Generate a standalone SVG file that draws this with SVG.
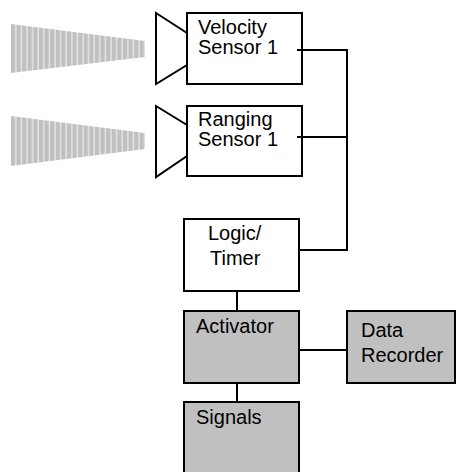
<svg xmlns="http://www.w3.org/2000/svg" width="457" height="472" viewBox="0 0 457 472">
<defs>
<pattern id="stripes" patternUnits="userSpaceOnUse" x="11" y="0" width="5.6" height="10">
<rect x="0" y="0" width="5.6" height="10" fill="#c0c0c0"/>
<rect x="4.1" y="0" width="1.5" height="10" fill="#e4e4e4"/>
</pattern>
<style>
.box{stroke:#000;stroke-width:2;}
.w{fill:#fff;}
.g{fill:#c0c0c0;}
.spk{fill:#fff;stroke:#000;stroke-width:2;stroke-linejoin:miter;}
.beam{fill:url(#stripes);}
.lbl{font-family:"Liberation Sans",Arial,sans-serif;font-size:20px;fill:#000;}
.conn{stroke:#000;stroke-width:2;fill:none;}
</style>
</defs>
<g id="beam1"><polygon class="beam" points="11,24 145,41 145,57 11,73"/></g>
<g id="beam2"><polygon class="beam" points="11,116 145,133 145,149 11,166"/></g>
<g id="velocity-sensor">
<polygon class="spk" points="156,13 187,33 187,65 156,84"/>
<rect class="box w" x="187" y="13" width="115" height="71"/>
<text class="lbl" x="198" y="34">Velocity</text>
<text class="lbl" x="198" y="54">Sensor 1</text>
</g>
<g id="ranging-sensor">
<polygon class="spk" points="156,106 187,125 187,156 156,177"/>
<rect class="box w" x="187" y="106" width="115" height="70"/>
<text class="lbl" x="198" y="126">Ranging</text>
<text class="lbl" x="198" y="146">Sensor 1</text>
</g>
<g id="logic-timer">
<rect class="box w" x="184" y="219" width="115" height="72"/>
<text class="lbl" x="208" y="240">Logic/</text>
<text class="lbl" x="210" y="265">Timer</text>
</g>
<g id="activator">
<rect class="box g" x="184" y="311" width="115" height="72"/>
<text class="lbl" x="196" y="333">Activator</text>
</g>
<g id="data-recorder">
<rect class="box g" x="347" y="311" width="108" height="72"/>
<text class="lbl" x="361" y="337">Data</text>
<text class="lbl" x="361" y="362">Recorder</text>
</g>
<g id="signals">
<rect class="box g" x="184" y="402" width="115" height="75"/>
<text class="lbl" x="196" y="424">Signals</text>
</g>
<g id="connectors">
<polyline class="conn" points="297,50 347,50 347,250 298,250"/>
<line class="conn" x1="297" y1="137" x2="347" y2="137"/>
<line class="conn" x1="237" y1="291" x2="237" y2="311"/>
<line class="conn" x1="237" y1="383" x2="237" y2="402"/>
<line class="conn" x1="298" y1="350" x2="347" y2="350"/>
</g>
</svg>
